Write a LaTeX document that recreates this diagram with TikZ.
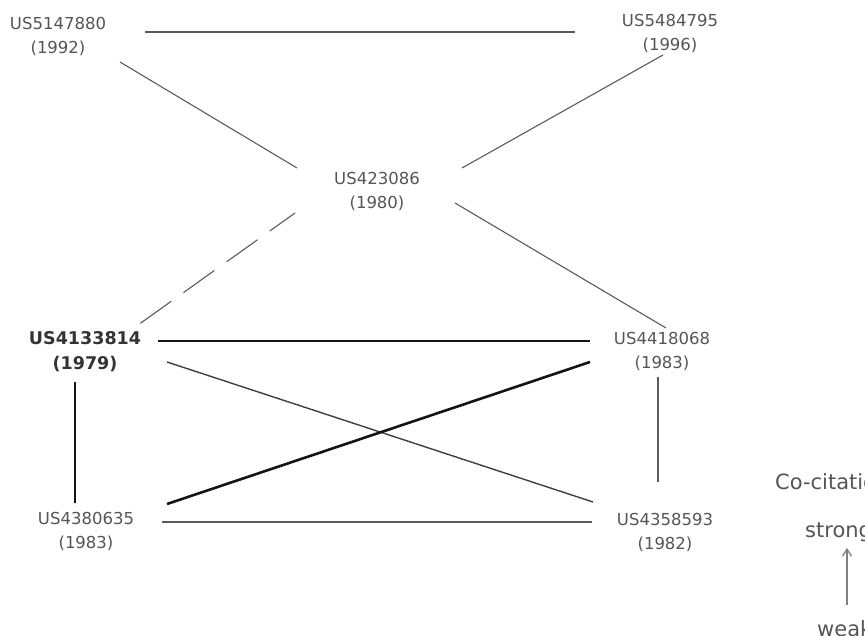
\documentclass[tikz,border=0pt]{standalone}
\usepackage{fontspec}
\setmainfont{DejaVu Sans}
\usetikzlibrary{calc,arrows.meta}
\definecolor{txt}{HTML}{555555}
\definecolor{thinline}{HTML}{5A5A5A}
\begin{document}
\begin{tikzpicture}[x=1pt,y=-1pt,
  lbl/.style={text=txt,align=center,inner sep=0pt,font=\fontsize{16.5}{24}\selectfont},
  lblbold/.style={text=black!80,align=center,inner sep=0pt,font=\fontsize{17.5}{25}\selectfont\bfseries},
  thinedge/.style={draw=thinline,line width=1.1pt},
  midedge/.style={draw=black!75,line width=1.4pt},
  thickedge/.style={draw=black!92,line width=2.6pt},
  dashedge/.style={draw=thinline,line width=1.1pt,dash pattern=on 38pt off 15pt,dash phase=7pt},
  legend/.style={text=txt,inner sep=0pt,anchor=west,font=\fontsize{21}{24}\selectfont}]
\useasboundingbox (0,0) rectangle (865,636);
\node[lbl] (A) at (58,36) {US5147880\\(1992)};
\node[lbl] (B) at (670,33) {US5484795\\(1996)};
\node[lbl] (C) at (377,191) {US423086\\(1980)};
\node[lblbold] (D) at (85,352) {US4133814\\(1979)};
\node[lbl] (E) at (662,351) {US4418068\\(1983)};
\node[lbl] (F) at (86,531) {US4380635\\(1983)};
\node[lbl] (G) at (665,532) {US4358593\\(1982)};
% connectors
\draw[thinedge] ($(A)+(87,-4)$) -- ($(B)+(-95,-1)$);
\draw[thinedge] ($(A)+(62,26)$) -- ($(C)+(-80,-23)$);
\draw[thinedge] ($(B)+(-7,22)$) -- ($(C)+(85,-23)$);
\draw[thinedge] ($(C)+(78,12)$) -- ($(E)+(4,-23)$);
\draw[dashedge] ($(C)+(-82,22)$) -- ($(D)+(53,-27)$);
\draw[thickedge] ($(D)+(73,-11)$) -- ($(E)+(-72,-10)$);
\draw[midedge] ($(D)+(82,10)$) -- ($(G)+(-72,-30)$);
\draw[thickedge] ($(F)+(81,-27)$) -- ($(E)+(-72,11)$);
\draw[thickedge] ($(D)+(-10,30)$) -- ($(F)+(-11,-28)$);
\draw[thinedge] ($(E)+(-4,26)$) -- ($(G)+(-7,-50)$);
\draw[midedge,draw=thinline] ($(F)+(76,-9)$) -- ($(G)+(-73,-10)$);
% legend
\node[legend] (L) at (775,482) {Co-citation};
\node[legend] (S) at (805,532) {strong};
\node[legend] (W) at (817,629) {weak};
\coordinate (ab) at (847,605);
\coordinate (at) at (847,548);
\draw[draw=black!50,line width=1.3pt,-{Straight Barb[length=7pt,width=9pt]}] (ab) -- (at);
\end{tikzpicture}
\end{document}
